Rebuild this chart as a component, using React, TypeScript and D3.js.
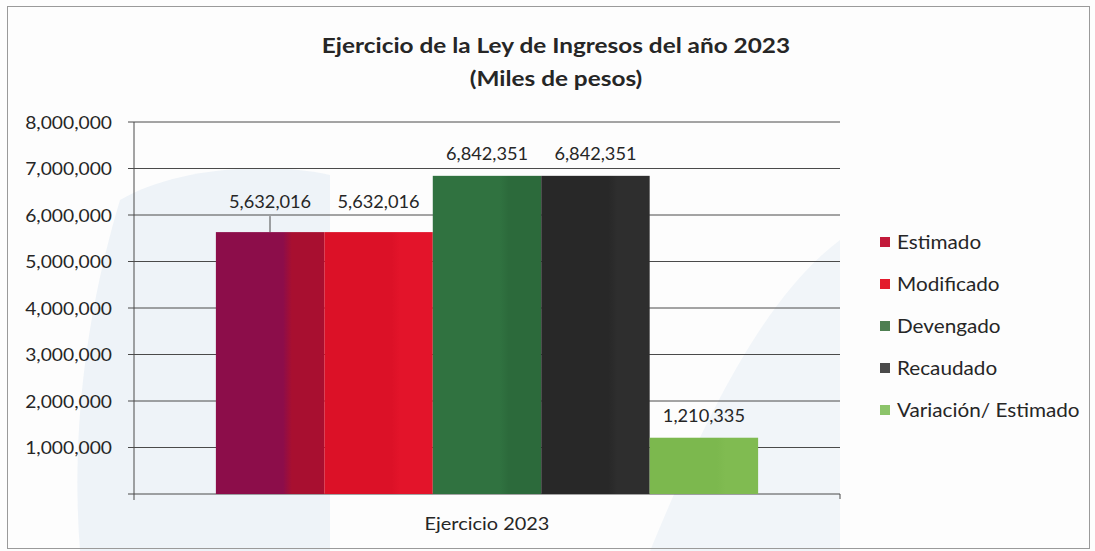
import React from "react";
import * as d3 from "d3";

const categories = ["Ejercicio 2023"];
const series = ["Estimado", "Modificado", "Devengado", "Recaudado", "Variación/ Estimado"];
const values = [5632016, 5632016, 6842351, 6842351, 1210335];
const yTicks = [0, 1000000, 2000000, 3000000, 4000000, 5000000, 6000000, 7000000, 8000000];
const colorsA = ["#8c0d4a", "#dc1127", "#307240", "#282828", "#7cb84e"];
const colorsB = ["#a80f30", "#e3142a", "#2c6a3b", "#2e2e2e", "#80bb51"];
const legendColors = ["#c21a3a", "#e31b2c", "#4e7f52", "#4a4a4a", "#8cc46a"];

const W = 1095;
const H = 551;
const left = 134;
const right = 840;
const top = 122;
const bottom = 494;
const font = "Lato, 'Open Sans', sans-serif";

function T({ x, y, sx = 1.1, anchor = "start", size = 17.5, weight = "normal", children }: any) {
  return (
    <text
      transform={`translate(${x},${y}) scale(${sx},1)`}
      textAnchor={anchor}
      fontFamily={font}
      fontSize={size}
      fontWeight={weight}
      fill="#262626"
    >
      {children}
    </text>
  );
}

export default function App() {
  const y = d3.scaleLinear().domain([0, 8000000]).range([bottom, top]);
  const x0 = d3.scaleBand().domain(categories).range([left, right]).paddingInner(0).paddingOuter(0.151);
  const x1 = d3.scaleBand().domain(series).range([0, x0.bandwidth()]).padding(0);
  const fmt = d3.format(",");
  const cat = categories[0];
  const gx = x0(cat) as number;

  return (
    <svg width={W} height={H} style={{ position: "absolute", left: 0, top: 0, background: "#fff" }}>
      <defs>
        {series.map((s, i) => (
          <linearGradient key={s} id={`g${i}`} x1="0" x2="1" y1="0" y2="0">
            <stop offset="0%" stopColor={colorsA[i]} />
            <stop offset="62%" stopColor={colorsA[i]} />
            <stop offset="70%" stopColor={colorsB[i]} />
            <stop offset="100%" stopColor={colorsB[i]} />
          </linearGradient>
        ))}
      </defs>
      <rect x={0} y={0} width={W} height={H} fill="#fdfdfd" />
      <path d="M120,200 C170,170 260,160 330,175 L330,551 L80,551 C70,420 90,300 120,200 Z" fill="#eef3f8" />
      <path d="M650,551 C700,430 760,300 840,240 L840,551 Z" fill="#f1f5f9" />
      <rect x={7.5} y={6.5} width={1082} height={542} fill="none" stroke="#9a9a9a" strokeWidth={1} />

      <T x={556} y={53} anchor="middle" size={21} weight="bold" sx={1.16}>
        Ejercicio de la Ley de Ingresos del año 2023
      </T>
      <T x={556} y={86} anchor="middle" size={21} weight="bold" sx={1.16}>
        (Miles de pesos)
      </T>

      {yTicks.map((t) => (
        <g key={t}>
          <line x1={128} x2={right} y1={y(t)} y2={y(t)} stroke="#4a4a4a" strokeWidth={1} />
          {t !== 0 && (
            <T x={112} y={y(t) + 6.5} anchor="end">
              {fmt(t)}
            </T>
          )}
        </g>
      ))}
      <line x1={left} x2={left} y1={top} y2={bottom + 6} stroke="#4a4a4a" strokeWidth={1} />
      <line x1={right} x2={right} y1={bottom} y2={bottom + 5} stroke="#4a4a4a" strokeWidth={1} />

      {series.map((s, i) => {
        const bx = gx + (x1(s) as number);
        const bw = x1.bandwidth();
        const off = i < 2 ? 24 : 16;
        return (
          <g key={s}>
            <rect x={bx} y={y(values[i])} width={bw} height={bottom - y(values[i])} fill={`url(#g${i})`} />
            <T x={bx + bw / 2} y={y(values[i]) - off} anchor="middle" sx={1.04}>
              {fmt(values[i])}
            </T>
          </g>
        );
      })}
      <line x1={270} x2={270} y1={y(values[0]) - 16} y2={y(values[0])} stroke="#4a4a4a" strokeWidth={1} />

      <T x={gx + x0.bandwidth() / 2} y={530} anchor="middle" sx={1.14}>
        {cat}
      </T>

      {series.map((s, i) => (
        <g key={s} transform={`translate(880, ${242 + i * 42})`}>
          <rect x={0} y={-5} width={10} height={10} fill={legendColors[i]} />
          <T x={17} y={7} size={18.5} sx={1.12}>
            {s}
          </T>
        </g>
      ))}
    </svg>
  );
}
